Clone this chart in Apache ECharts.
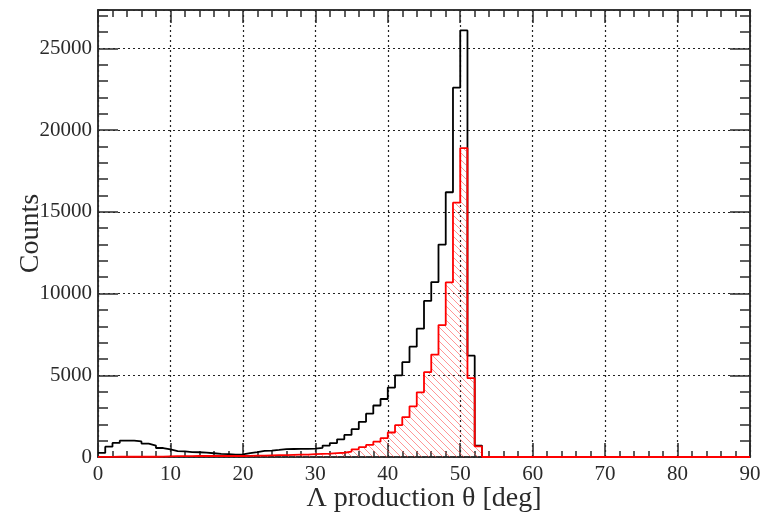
<!DOCTYPE html>
<html>
<head>
<meta charset="utf-8">
<script src="https://cdn.jsdelivr.net/npm/echarts@6/dist/echarts.min.js"></script>
<style>
html,body{margin:0;padding:0;background:#fff;}
#chart{width:765px;height:519px;}
</style>
</head>
<body>
<div id="chart"></div>
<script>
// Bin left edges (deg), 1-degree bins from 0 to 90
const binEdges = Array.from({length: 91}, (_, i) => i);
// All events (black)
const blackCounts = [
  250, 630, 860, 1000, 1000, 950, 820, 700, 550, 470,
  360, 340, 300, 290, 270, 230, 190, 170, 150, 160,
  240, 300, 370, 390, 430, 480, 490, 500, 500, 510,
  560, 700, 850, 1080, 1350, 1700, 2150, 2650, 3150, 3550,
  4250, 5000, 5800, 6750, 7850, 9550, 10700, 13000, 16200, 22600,
  26100, 6200, 700, 0, 0, 0, 0, 0, 0, 0,
  0, 0, 0, 0, 0, 0, 0, 0, 0, 0,
  0, 0, 0, 0, 0, 0, 0, 0, 0, 0,
  0, 0, 0, 0, 0, 0, 0, 0, 0, 0
];
// Selected events (red, hatched)
const redCounts = [
  5, 10, 15, 15, 15, 15, 15, 15, 20, 40,
  50, 55, 55, 60, 60, 60, 60, 60, 60, 60,
  70, 80, 90, 100, 110, 120, 130, 140, 150, 170,
  190, 210, 240, 260, 330, 470, 600, 740, 940, 1150,
  1500, 1950, 2440, 3100, 3960, 5190, 6270, 8070, 10680, 15560,
  18900, 4820, 650, 0, 0, 0, 0, 0, 0, 0,
  0, 0, 0, 0, 0, 0, 0, 0, 0, 0,
  0, 0, 0, 0, 0, 0, 0, 0, 0, 0,
  0, 0, 0, 0, 0, 0, 0, 0, 0, 0
];
const xTickLabels = ['0','10','20','30','40','50','60','70','80','90'];
const yTickLabels = ['0','5000','10000','15000','20000','25000'];

function stepPoints(counts) {
  const pts = counts.map((v, i) => [binEdges[i], v]);
  pts.push([binEdges[counts.length], counts[counts.length - 1]]);
  return pts;
}

// hatch pattern
const pc = document.createElement('canvas');
const S = 7;
pc.width = S; pc.height = S;
const ctx = pc.getContext('2d');
ctx.strokeStyle = 'rgba(255,80,80,0.6)';
ctx.lineWidth = 1;
ctx.beginPath();
ctx.moveTo(-1, -1); ctx.lineTo(S + 1, S + 1);
ctx.moveTo(-1, S - 1); ctx.lineTo(1, S + 1);
ctx.moveTo(S - 1, -1); ctx.lineTo(S + 1, 1);
ctx.stroke();

const FONT = 'Liberation Serif';
const AX = '#2a2a2a';
const chart = echarts.init(document.getElementById('chart'), null, {renderer: 'canvas'});

function xAx(pos, interval, tickLen, extra) {
  return Object.assign({
    type: 'value', min: 0, max: 90, interval: interval, position: pos,
    nameMoveOverlap: false,
    axisLine: {show: true, onZero: false, lineStyle: {color: AX, width: 1.5}},
    axisTick: {show: true, inside: true, length: tickLen, lineStyle: {color: AX, width: 1.5}},
    axisLabel: {show: false},
    splitLine: {show: false}
  }, extra || {});
}
function yAx(pos, interval, tickLen, extra) {
  return Object.assign({
    type: 'value', min: 0, max: 27350, interval: interval, position: pos,
    nameMoveOverlap: false,
    axisLine: {show: true, onZero: false, lineStyle: {color: AX, width: 1.5}},
    axisTick: {show: true, inside: true, length: tickLen, lineStyle: {color: AX, width: 1.5}},
    axisLabel: {show: false},
    splitLine: {show: false}
  }, extra || {});
}

const option = {
  animation: false,
  backgroundColor: '#fff',
  grid: {left: 98, right: 15, top: 10, bottom: 62, containLabel: false, outerBoundsMode: 'none'},
  xAxis: [
    xAx('bottom', 10, 14, {
      axisLabel: {show: true, margin: 7, fontFamily: FONT, fontSize: 21, color: AX,
        formatter: (v) => xTickLabels[Math.round(v / 10)] },
      splitLine: {show: true, lineStyle: {color: '#222', width: 1.2, type: [2, 3]}},
      name: 'Λ production θ [deg]', nameLocation: 'middle', nameGap: 28,
      nameTextStyle: {fontFamily: FONT, fontSize: 28, color: AX}
    }),
    xAx('bottom', 2, 6),
    xAx('top', 10, 13),
    xAx('top', 2, 7)
  ],
  yAxis: [
    yAx('left', 5000, 20, {
      axisLabel: {show: true, margin: 6, fontFamily: FONT, fontSize: 21, color: AX,
        showMaxLabel: false,
        formatter: (v) => { const k = Math.round(v / 5000); return (v % 5000 === 0 && yTickLabels[k]) ? yTickLabels[k] : ''; } },
      splitLine: {show: true, lineStyle: {color: '#222', width: 1.2, type: [2, 3]}},
      name: 'Counts', nameLocation: 'middle', nameGap: 53,
      nameTextStyle: {fontFamily: FONT, fontSize: 28, color: AX}
    }),
    yAx('left', 1000, 10),
    yAx('right', 5000, 20),
    yAx('right', 1000, 10)
  ],
  series: [
    {
      name: 'all', type: 'line', xAxisIndex: 0, yAxisIndex: 0,
      step: 'end', showSymbol: false, symbol: 'none',
      data: stepPoints(blackCounts),
      lineStyle: {color: '#000', width: 1.8},
      z: 3
    },
    {
      name: 'selected', type: 'line', xAxisIndex: 0, yAxisIndex: 0,
      step: 'end', showSymbol: false, symbol: 'none',
      data: stepPoints(redCounts),
      lineStyle: {color: '#ff0000', width: 1.8},
      areaStyle: {color: {image: pc, repeat: 'repeat'}, opacity: 1},
      z: 4
    }
  ]
};
chart.setOption(option);
</script>
</body>
</html>
